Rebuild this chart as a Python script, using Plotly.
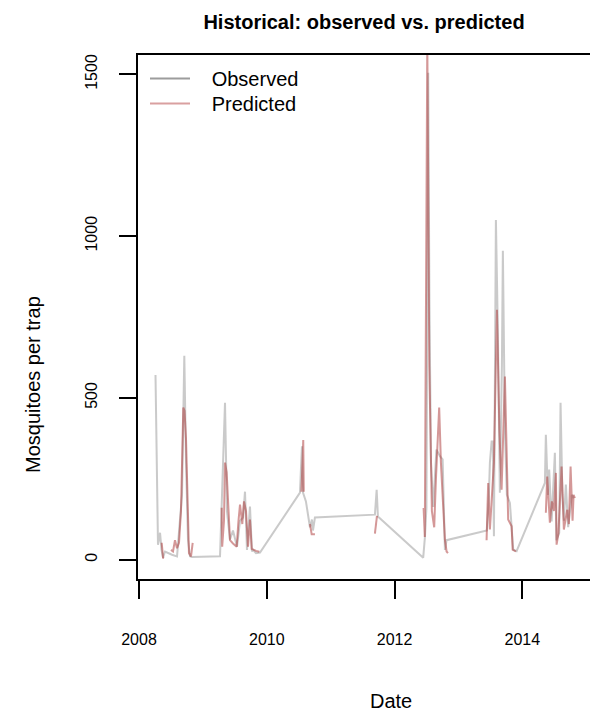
import plotly.graph_objects as go

# Observed series (decimal year, mosquitoes per trap)
obs_year = [2008.258, 2008.297, 2008.329, 2008.352, 2008.376, 2008.407, 2008.516, 2008.595,
            2008.673, 2008.709, 2008.736, 2008.767, 2008.798, 2008.829,
            2009.268, 2009.291, 2009.315, 2009.346, 2009.377, 2009.424, 2009.471, 2009.534,
            2009.581, 2009.628, 2009.659, 2009.690, 2009.737, 2009.768, 2009.784, 2009.831, 2009.894,
            2010.520, 2010.535, 2010.551, 2010.567, 2010.613, 2010.676, 2010.707, 2010.723, 2010.754,
            2011.693, 2011.720, 2011.740,
            2012.449, 2012.476, 2012.499, 2012.515, 2012.527, 2012.546, 2012.570, 2012.606,
            2012.632, 2012.656, 2012.684, 2012.710, 2012.753, 2012.773, 2012.789, 2012.815,
            2013.446, 2013.477, 2013.493, 2013.520, 2013.540, 2013.556, 2013.587, 2013.618,
            2013.649, 2013.681, 2013.696, 2013.728, 2013.759, 2013.806, 2013.833, 2013.858, 2013.911,
            2014.354, 2014.369, 2014.401, 2014.421, 2014.459, 2014.479, 2014.510, 2014.534,
            2014.578, 2014.599, 2014.628, 2014.651, 2014.682, 2014.718, 2014.745, 2014.776, 2014.808]
obs_value = [571, 46, 83, 30, 6, 25, 15, 10,
             200, 630, 300, 60, 10, 8,
             10, 150, 300, 485, 150, 62, 90, 40,
             120, 130, 210, 30, 164, 25, 30, 20, 22,
             207, 280, 350, 207, 180, 100, 124, 90, 130,
             139, 216, 133,
             6, 70, 160, 900, 1505, 800, 300, 163,
             250, 340, 330, 320, 310, 150, 30, 60,
             90, 200, 300, 365, 365, 72, 1050, 700,
             207, 600, 955, 400, 200, 175, 103, 31, 26,
             237, 386, 200, 278, 118, 200, 330, 60,
             83, 485, 200, 120, 232, 100, 150, 200, 190]

# Predicted series (None = gap between fitted segments)
pred_year = [2008.355, 2008.376, 2008.391, None,
             2008.501, 2008.532, 2008.563, 2008.595, 2008.626, 2008.657, 2008.693, 2008.712,
             2008.736, 2008.782, 2008.814, 2008.840, None,
             2009.294, 2009.302, 2009.330, 2009.346, 2009.372, 2009.393, 2009.424, 2009.471,
             2009.529, 2009.557, 2009.581, 2009.617, 2009.643, 2009.675, 2009.706, 2009.737,
             2009.764, 2009.831, 2009.883, None,
             2010.543, 2010.559, 2010.571, 2010.579, None,
             2010.676, 2010.703, 2010.754, None,
             2011.693, 2011.725, None,
             2012.455, 2012.474, 2012.513, 2012.544, 2012.585, 2012.621, 2012.648, 2012.679,
             2012.699, 2012.726, 2012.757, 2012.789, 2012.815, 2012.836, None,
             2013.441, 2013.466, 2013.493, 2013.524, 2013.556, 2013.603, 2013.642, 2013.676,
             2013.704, 2013.728, 2013.759, 2013.779, 2013.833, 2013.849, 2013.900, None,
             2014.369, 2014.390, 2014.432, 2014.463, 2014.495, 2014.526, 2014.537, 2014.565,
             2014.615, 2014.651, 2014.703, 2014.729, 2014.756, 2014.787, 2014.803, 2014.823]
pred_value = [52, 6, 5, None,
              30, 25, 60, 35, 52, 150, 470, 460,
              370, 20, 10, 52, None,
              160, 40, 120, 300, 270, 165, 60, 50,
              40, 120, 170, 110, 180, 150, 40, 124,
              33, 27, 24, None,
              210, 330, 370, 210, None,
              110, 78, 78, None,
              80, 135, None,
              160, 70, 1600, 600, 150, 100, 250, 420,
              470, 300, 200, 60, 25, 20, None,
              60, 237, 93, 216, 300, 772, 400, 216,
              400, 566, 300, 124, 103, 31, 25, None,
              145, 257, 114, 180, 150, 268, 46, 80,
              288, 93, 154, 110, 288, 120, 200, 190]

x_ticks = [2008, 2010, 2012, 2014]
y_ticks = [0, 500, 1000, 1500]

FONT = "Liberation Sans, Arial, sans-serif"
OBS_COLOR = "rgba(150,150,150,0.5)"
PRED_COLOR = "rgba(170,50,50,0.5)"
NB = "\u00a0\u00a0\u00a0"

# plot-area geometry in pixels (for placing text in paper coordinates)
L, R, T, B = 138, 590, 55, 579
def px(xp):
    return (xp - L) / (R - L)
def py(yp):
    return (B - yp) / (B - T)

fig = go.Figure()
fig.add_trace(go.Scatter(x=obs_year, y=obs_value, mode="lines",
                         line=dict(color=OBS_COLOR, width=2), showlegend=False,
                         name="Observed"))
fig.add_trace(go.Scatter(x=pred_year, y=pred_value, mode="lines",
                         line=dict(color=PRED_COLOR, width=2), showlegend=False,
                         connectgaps=False, name="Predicted"))
# legend entries
fig.add_trace(go.Scatter(x=[None], y=[None], mode="lines", legend="legend",
                         line=dict(color="#9c9c9c", width=2), name=NB + "Observed"))
fig.add_trace(go.Scatter(x=[None], y=[None], mode="lines", legend="legend2",
                         line=dict(color="#d9a0a0", width=2), name=NB + "Predicted"))

legend_common = dict(xanchor="left", yanchor="top", bgcolor="rgba(0,0,0,0)",
                     font=dict(size=20, family=FONT), itemwidth=40)

fig.update_layout(
    width=591, height=713,
    margin=dict(l=L, r=591 - R, t=T, b=713 - B),
    paper_bgcolor="white", plot_bgcolor="white",
    font=dict(family=FONT, color="black"),
    title=dict(text="<b>Historical: observed vs. predicted</b>",
               font=dict(size=20, family=FONT, color="black"),
               x=(L + R) / 2 / 591, xanchor="center", y=1 - 22 / 713, yanchor="middle"),
    legend=dict(x=px(145), y=py(59), **legend_common),
    legend2=dict(x=px(145), y=py(84), **legend_common),
    showlegend=True,
    annotations=[
        dict(text="Date", x=px(391), y=py(701), xref="paper", yref="paper",
             xanchor="center", yanchor="middle", showarrow=False,
             font=dict(size=20, family=FONT, color="black")),
        dict(text="Mosquitoes per trap", x=px(33), y=py(385), xref="paper", yref="paper",
             xanchor="center", yanchor="middle", showarrow=False, textangle=-90,
             font=dict(size=20, family=FONT, color="black")),
    ],
)
fig.update_xaxes(range=[2007.984, 2015.06], tickvals=x_ticks, ticktext=[str(v) for v in x_ticks],
                 showgrid=False, zeroline=False, showline=True, mirror=True,
                 linecolor="black", linewidth=2, ticks="outside", ticklen=18, tickwidth=2,
                 tickcolor="black", tickfont=dict(size=16, family=FONT),
                 ticklabelstandoff=27)
fig.update_yaxes(range=[-60, 1560], tickvals=y_ticks, ticktext=[str(v) for v in y_ticks],
                 showgrid=False, zeroline=False, showline=True, mirror=False,
                 linecolor="black", linewidth=2, ticks="outside", ticklen=17, tickwidth=2,
                 tickcolor="black", tickfont=dict(size=16, family=FONT), tickangle=-90,
                 ticklabelstandoff=16)

fig.write_html("out.html")
